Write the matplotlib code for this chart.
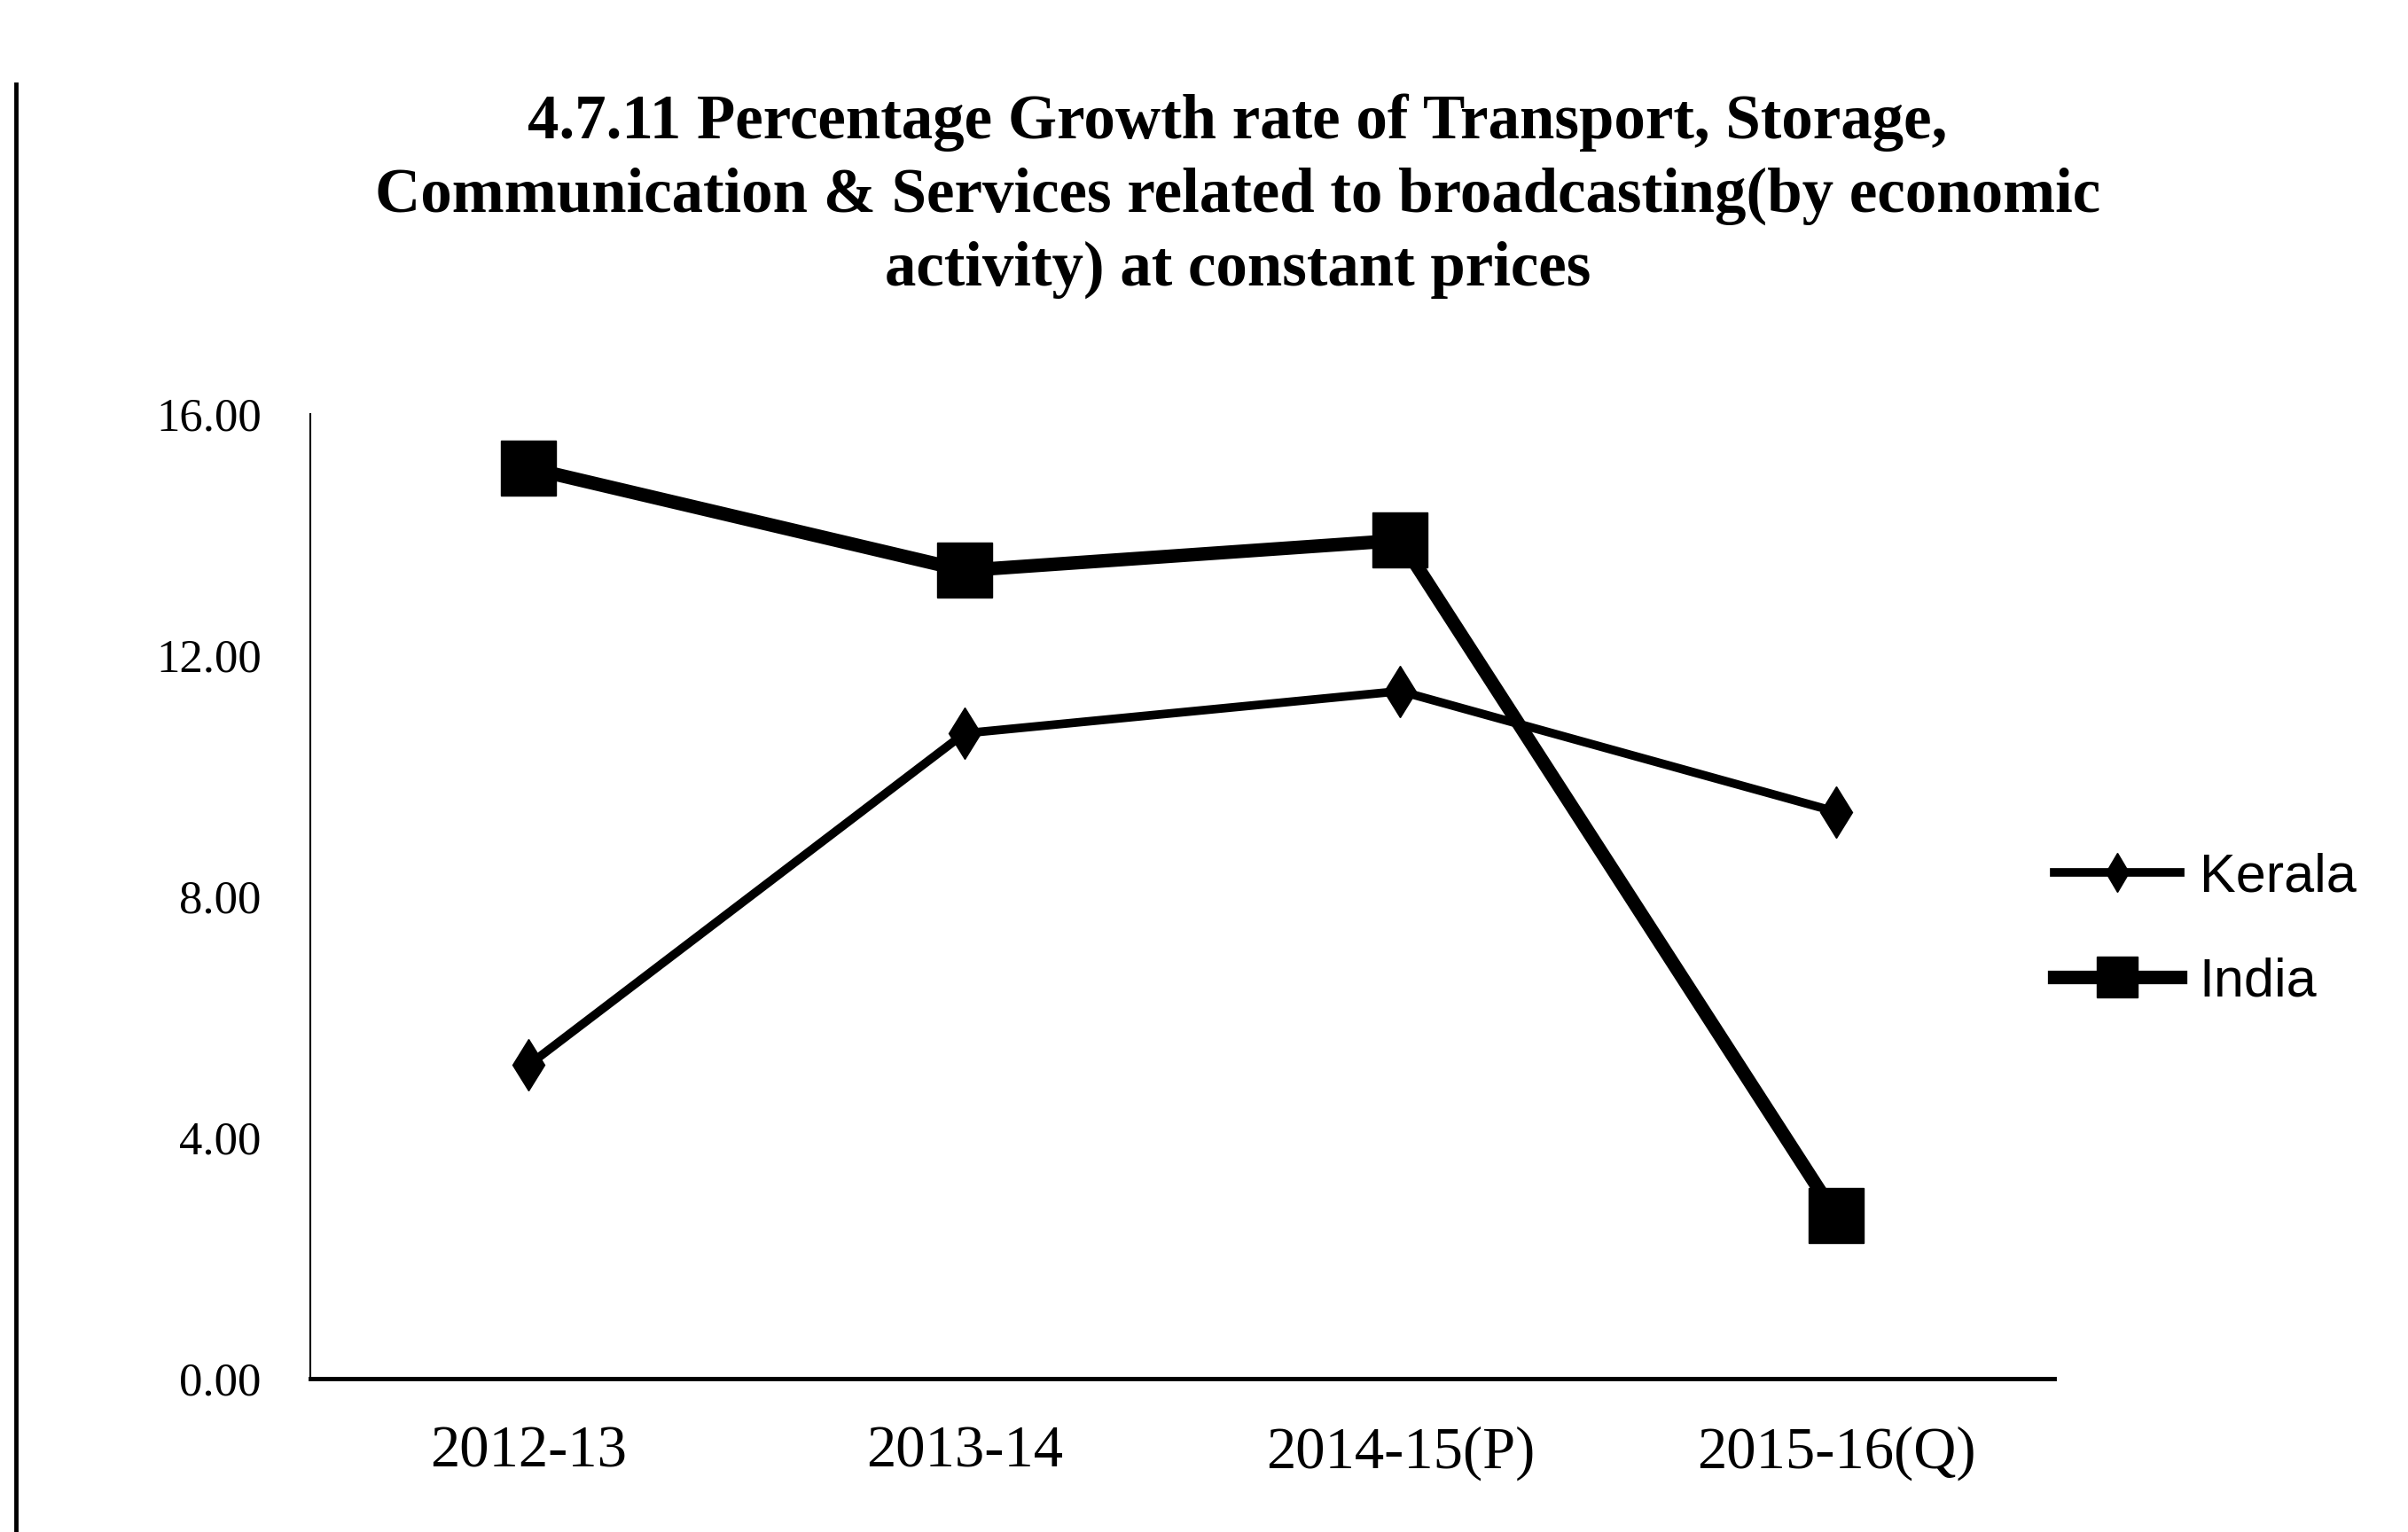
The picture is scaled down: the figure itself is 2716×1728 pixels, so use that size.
import matplotlib
matplotlib.use("Agg")
import matplotlib.pyplot as plt
from matplotlib.lines import Line2D

plt.rcParams['font.family'] = ['Liberation Serif', 'DejaVu Serif']

years = ["2012-13", "2013-14", "2014-15(P)", "2015-16(Q)"]
kerala = [5.2, 10.7, 11.4, 9.4]
india = [15.1, 13.4, 13.9, 2.7]

title_lines = [
    "4.7.11 Percentage Growth rate of Transport, Storage,",
    "Communication & Services related to broadcasting(by economic",
    "activity) at constant prices",
]

fig = plt.figure(figsize=(27.16, 17.28), dpi=100)
ax = fig.add_axes([0.129, 0.1, 0.724, 0.63])

x = range(len(years))
ax.plot(x, kerala, color="black", lw=7, marker="d", ms=30, label="Kerala")
ax.plot(x, india, color="black", lw=11, marker="s", ms=44, label="India")

ax.set_xlim(-0.5, 3.5)
ax.set_ylim(0, 16)
ax.set_yticks([0, 4, 8, 12, 16])
ax.set_yticklabels([f"{v:.2f}" for v in [0, 4, 8, 12, 16]])
ax.set_xticks(list(x))
ax.set_xticklabels(years)
ax.tick_params(axis="both", length=0)
ax.tick_params(axis="y", pad=40, labelsize=38)
ax.tick_params(axis="x", pad=38, labelsize=48)

for side in ["top", "right"]:
    ax.spines[side].set_visible(False)
ax.spines["left"].set_linewidth(1.5)
ax.spines["bottom"].set_linewidth(3.5)

for i, line in enumerate(title_lines):
    fig.text(0.514, 0.92 - i * 0.048, line, ha="center", va="center",
             fontsize=51, fontweight="bold")

fig.legend(loc="center left", bbox_to_anchor=(0.853, 0.393), frameon=False,
           prop={"family": "Liberation Sans", "size": 44},
           handlelength=2.33, handletextpad=0.35, labelspacing=1.0,
           borderpad=0, borderaxespad=0, markerscale=0.75)

# page border on the left
fig.add_artist(Line2D([0.0066, 0.0066], [0.0, 0.945], color="black", lw=3.5,
                      transform=fig.transFigure))

fig.savefig("out.png", dpi=100)
